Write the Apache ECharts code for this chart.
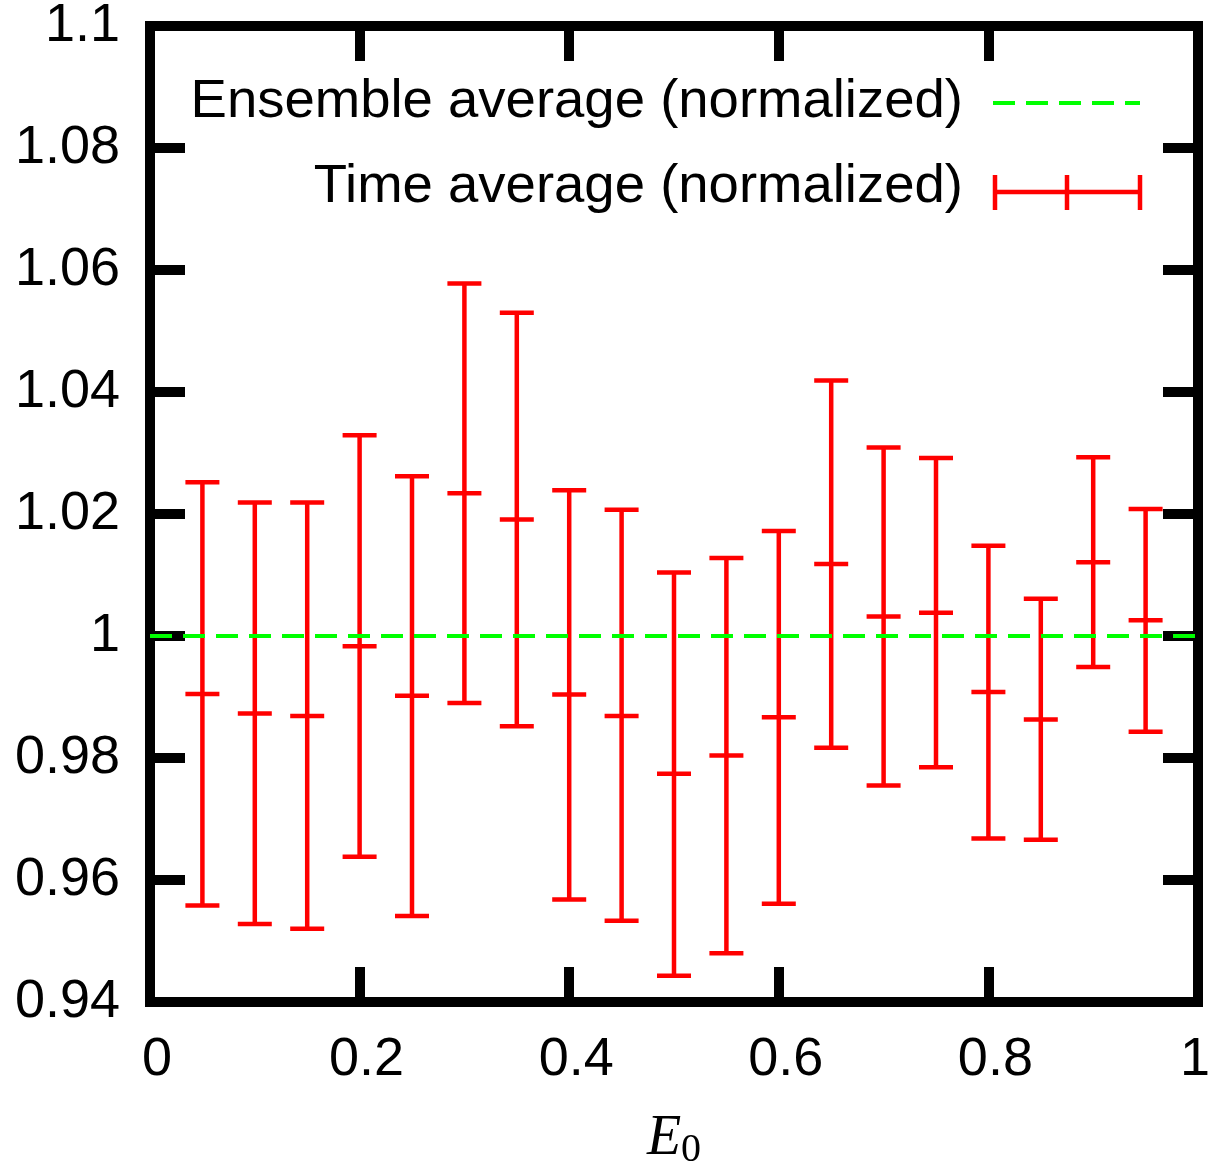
<!DOCTYPE html>
<html>
<head>
<meta charset="utf-8">
<script src="https://cdn.jsdelivr.net/npm/echarts@6/dist/echarts.min.js"></script>
<style>
html,body{margin:0;padding:0;background:#fff;}
#chart{width:1210px;height:1165px;}
</style>
</head>
<body>
<div id="chart"></div>
<script>
// ---- data ----
const xValues = [0.05,0.10,0.15,0.20,0.25,0.30,0.35,0.40,0.45,0.50,0.55,0.60,0.65,0.70,0.75,0.80,0.85,0.90,0.95];
const meanValues = [0.9905,0.9873,0.9869,0.9983,0.9902,1.0234,1.0191,0.9904,0.9869,0.9774,0.9804,0.9867,1.0118,1.0032,1.0038,0.9908,0.9863,1.0121,1.0026];
const lowValues  = [0.9558,0.9528,0.9520,0.9638,0.9541,0.9890,0.9852,0.9568,0.9533,0.9443,0.9480,0.9561,0.9817,0.9755,0.9785,0.9668,0.9666,0.9949,0.9843];
const highValues = [1.0252,1.0219,1.0219,1.0329,1.0262,1.0578,1.0530,1.0239,1.0207,1.0104,1.0128,1.0172,1.0419,1.0309,1.0292,1.0148,1.0061,1.0293,1.0208];
const ensembleValue = 1.0;
const xTickLabels = ['0','0.2','0.4','0.6','0.8','1'];
const yTickLabels = ['0.94','0.96','0.98','1','1.02','1.04','1.06','1.08','1.1'];
const legendLabels = ['Ensemble average (normalized)','Time average (normalized)'];

const RED = '#ff0000', GREEN = '#00ff00';
const FONT = 'Liberation Sans, Arial, Helvetica, sans-serif';
const SERIF = 'Liberation Serif, DejaVu Serif, serif';

const errData = xValues.map((x,i)=>[x, lowValues[i], highValues[i], meanValues[i]]);

const chart = echarts.init(document.getElementById('chart'), null, {renderer:'canvas'});

function fmtX(v){
  const s = Number(v.toFixed(2)).toString();
  if (!xTickLabels.includes(s)) return '';
  return s === '1' ? '{q|' + s + '}' : '{p|' + s + '}';
}
function fmtY(v){ const s = Number(v.toFixed(2)).toString(); return yTickLabels.includes(s) ? s : ''; }

function axisCommon(){
  return {
    axisLine:{show:false, onZero:false},
    splitLine:{show:false},
    axisTick:{show:true, inside:true, length:35, lineStyle:{color:'#000', width:10}}
  };
}

const option = {
  backgroundColor:'#fff',
  animation:false,
  grid:{left:150, right:12, top:26, bottom:163, containLabel:false, outerBoundsMode:'none',
        show:true, borderColor:'#000', borderWidth:10, backgroundColor:'transparent', z:10},
  xAxis:[
    Object.assign({type:'value', min:0, max:1, interval:0.2, position:'bottom',
      name:'{e|E}{s|0}', nameLocation:'middle', nameGap:106,
      nameTextStyle:{rich:{e:{fontFamily:SERIF, fontStyle:'italic', fontSize:56, color:'#000'},
                            s:{fontFamily:SERIF, fontSize:40, color:'#000', verticalAlign:'bottom', padding:[22,0,0,0]}}},
      axisLabel:{formatter:fmtX, fontFamily:FONT, fontSize:54, color:'#000', margin:31,
        rich:{p:{fontFamily:FONT, fontSize:54, color:'#000', padding:[0,0,0,14]},
              q:{fontFamily:FONT, fontSize:54, color:'#000', padding:[0,6,0,0]}}}}, axisCommon()),
    Object.assign({type:'value', min:0, max:1, interval:0.2, position:'top', axisLabel:{show:false}}, axisCommon())
  ],
  yAxis:[
    Object.assign({type:'value', min:0.94, max:1.1, interval:0.02, position:'left',
      axisLabel:{formatter:fmtY, fontFamily:FONT, fontSize:54, color:'#000', margin:30}}, axisCommon()),
    Object.assign({type:'value', min:0.94, max:1.1, interval:0.02, position:'right', axisLabel:{show:false}}, axisCommon())
  ],
  series:[
    {
      type:'line', name:legendLabels[0], xAxisIndex:0, yAxisIndex:0,
      data:[[0,ensembleValue],[1,ensembleValue]],
      showSymbol:false, symbol:'none', z:20,
      lineStyle:{color:GREEN, width:4, type:[22,11]}
    },
    {
      type:'custom', name:legendLabels[1], xAxisIndex:0, yAxisIndex:0, z:15,
      data:errData,
      renderItem:function(params, api){
        const x = api.value(0);
        const pLo = api.coord([x, api.value(1)]);
        const pHi = api.coord([x, api.value(2)]);
        const pM  = api.coord([x, api.value(3)]);
        const hw = 17;
        const st = {stroke:RED, lineWidth:4.5, fill:null};
        return {type:'group', children:[
          {type:'line', shape:{x1:pLo[0], y1:pLo[1], x2:pHi[0], y2:pHi[1]}, style:st},
          {type:'line', shape:{x1:pLo[0]-hw, y1:pLo[1], x2:pLo[0]+hw, y2:pLo[1]}, style:st},
          {type:'line', shape:{x1:pHi[0]-hw, y1:pHi[1], x2:pHi[0]+hw, y2:pHi[1]}, style:st},
          {type:'line', shape:{x1:pM[0]-hw, y1:pM[1], x2:pM[0]+hw, y2:pM[1]}, style:st}
        ]};
      }
    }
  ],
  graphic:[
    {type:'text', z:30, x:963, y:102, style:{text:legendLabels[0], font:'54.5px '+FONT, fill:'#000', textAlign:'right', textVerticalAlign:'middle'}},
    {type:'line', z:30, shape:{x1:993, y1:103, x2:1140, y2:103}, style:{stroke:GREEN, lineWidth:4, lineDash:[22,11]}},
    {type:'text', z:30, x:963, y:187, style:{text:legendLabels[1], font:'54.5px '+FONT, fill:'#000', textAlign:'right', textVerticalAlign:'middle'}},
    {type:'line', z:30, shape:{x1:995, y1:192, x2:1140, y2:192}, style:{stroke:RED, lineWidth:4.5}},
    {type:'line', z:30, shape:{x1:995, y1:175, x2:995, y2:210}, style:{stroke:RED, lineWidth:4.5}},
    {type:'line', z:30, shape:{x1:1067, y1:175, x2:1067, y2:210}, style:{stroke:RED, lineWidth:4.5}},
    {type:'line', z:30, shape:{x1:1140, y1:175, x2:1140, y2:210}, style:{stroke:RED, lineWidth:4.5}}
  ]
};
chart.setOption(option);
</script>
</body>
</html>
